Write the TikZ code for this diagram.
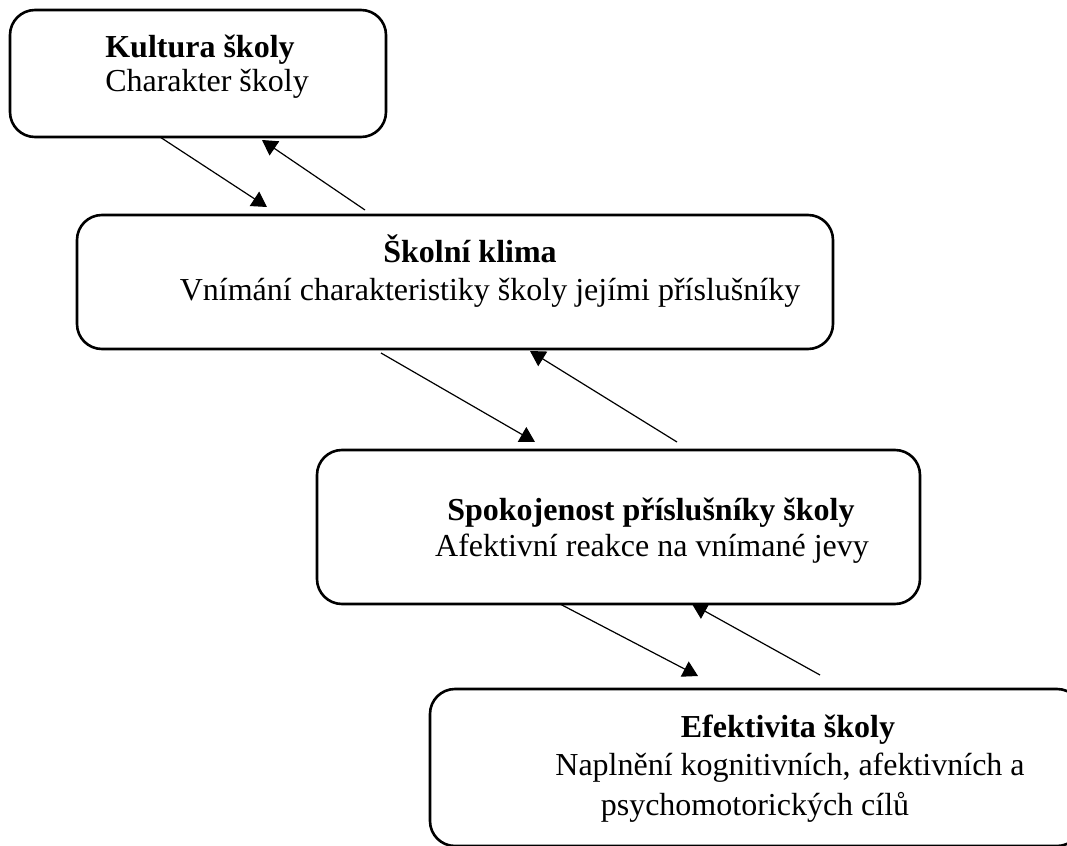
\documentclass[tikz,border=0pt]{standalone}
\usepackage{fontspec}
\setmainfont{Liberation Serif}
\usetikzlibrary{arrows.meta,calc}

\tikzset{
  stage/.style={draw=black, line width=1.3pt, rounded corners=12.5pt,
    rectangle, inner sep=0pt, outer sep=0pt, fill=white},
  head/.style={anchor=base, inner sep=0pt, font=\fontsize{16}{19}\selectfont\bfseries},
  body/.style={anchor=base, inner sep=0pt, font=\fontsize{16}{19}\selectfont},
  flow/.style={draw=black, line width=0.6pt,
    -{Triangle[length=7.5pt,width=8.5pt]}}
}

\begin{document}
\begin{tikzpicture}[x=0.5pt, y=-0.5pt]
  \fill[white] (0,0) rectangle (1067,846);
  \useasboundingbox (0,0) rectangle (1067,846);

  % the four stages
  \node[stage, minimum width=188pt, minimum height=63.5pt] (kultura) at (198,73.5) {};
  \node[stage, minimum width=378pt, minimum height=67pt] (klima) at (455,282) {};
  \node[stage, minimum width=301.5pt, minimum height=77pt] (spokojenost) at (618.5,527) {};
  \node[stage, minimum width=326pt, minimum height=78.5pt] (efektivita) at (756,767.5) {};

  % texts of the stages
  \node[head] (kulturaA) at (200,57) {Kultura školy};
  \node[body] (kulturaB) at (207,91) {Charakter školy};

  \node[head] (klimaA) at (470,262) {Školní klima};
  \node[body] (klimaB) at (490,300) {Vnímání charakteristiky školy jejími příslušníky};

  \node[head] (spokA) at (651,520) {Spokojenost příslušníky školy};
  \node[body] (spokB) at (652,556) {Afektivní reakce na vnímané jevy};

  \node[head] (efA) at (788,737) {Efektivita školy};
  \node[body] (efB) at (790,775) {Naplnění kognitivních, afektivních a};
  \node[body] (efC) at (755,815) {psychomotorických cílů};

  % mutual influences between neighbouring stages
  \coordinate (tipA) at ($(klima.north west)+(190,-8)$);
  \coordinate (tailB) at ($(klima.north west)+(288,-5)$);
  \draw[flow] ($(kultura.south west)+(150,0)$) -- (tipA);
  \draw[flow] (tailB) -- ($(kultura.south west)+(252,3)$);

  \coordinate (tipC) at ($(spokojenost.north west)+(218,-8)$);
  \coordinate (tailD) at ($(spokojenost.north west)+(360,-8)$);
  \draw[flow] ($(klima.south west)+(304,4)$) -- (tipC);
  \draw[flow] (tailD) -- ($(klima.south west)+(453,2)$);

  \coordinate (tipE) at ($(efektivita.north west)+(268,-13)$);
  \coordinate (tailF) at ($(efektivita.north west)+(390,-14)$);
  \draw[flow] ($(spokojenost.south west)+(243,0)$) -- (tipE);
  \draw[flow] (tailF) -- ($(spokojenost.south west)+(375,0)$);
\end{tikzpicture}
\end{document}
